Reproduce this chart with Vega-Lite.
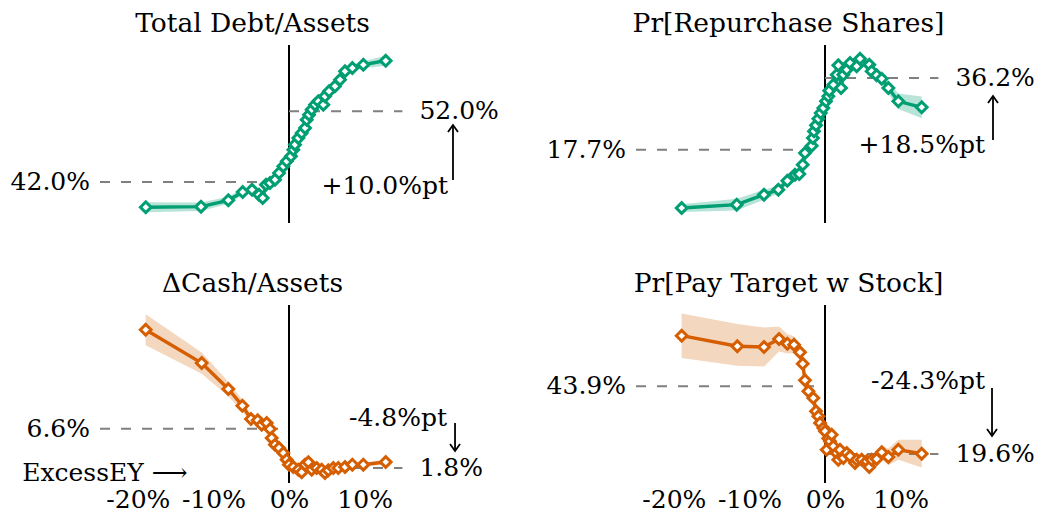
{
  "$schema": "https://vega.github.io/schema/vega-lite/v6.json",
  "padding": {"left": 0, "top": 10, "right": 0, "bottom": 0},
  "columns": 2,
  "spacing": {"row": 82, "column": 31},
  "bounds": "flush",
  "config": {
    "view": {"stroke": null},
    "font": "DejaVu Serif",
    "title": {"font": "DejaVu Serif", "fontSize": 26.5, "fontWeight": "normal", "color": "black", "offset": 7},
    "text": {"font": "DejaVu Serif", "fontSize": 25, "color": "black", "baseline": "middle"},
    "axis": {"labelFont": "DejaVu Serif", "labelFontSize": 25, "labelColor": "black", "domain": false, "ticks": false, "grid": false, "labelPadding": 4}
  },
  "datasets": {
    "tl": [
      {"x": -18.95, "y": 38.42, "lo": 37.72, "hi": 39.12},
      {"x": -11.64, "y": 38.51, "lo": 37.91, "hi": 39.11},
      {"x": -8.03, "y": 39.41, "lo": 38.91, "hi": 39.91},
      {"x": -6.13, "y": 40.59, "lo": 40.14, "hi": 41.04},
      {"x": -4.89, "y": 40.91, "lo": 40.51, "hi": 41.31},
      {"x": -3.97, "y": 40.20, "lo": 39.85, "hi": 40.55},
      {"x": -3.48, "y": 39.74, "lo": 39.39, "hi": 40.09},
      {"x": -3.04, "y": 41.62, "lo": 41.32, "hi": 41.92},
      {"x": -2.51, "y": 41.85, "lo": 41.55, "hi": 42.15},
      {"x": -1.85, "y": 42.33, "lo": 42.03, "hi": 42.63},
      {"x": -1.32, "y": 43.27, "lo": 42.97, "hi": 43.57},
      {"x": -0.75, "y": 44.22, "lo": 43.92, "hi": 44.52},
      {"x": -0.30, "y": 44.93, "lo": 44.63, "hi": 45.23},
      {"x": 0.26, "y": 45.64, "lo": 45.34, "hi": 45.94},
      {"x": 0.57, "y": 46.57, "lo": 46.27, "hi": 46.87},
      {"x": 0.79, "y": 47.28, "lo": 46.98, "hi": 47.58},
      {"x": 1.23, "y": 48.22, "lo": 47.92, "hi": 48.52},
      {"x": 1.68, "y": 48.93, "lo": 48.63, "hi": 49.23},
      {"x": 2.12, "y": 49.64, "lo": 49.34, "hi": 49.94},
      {"x": 2.34, "y": 50.81, "lo": 50.51, "hi": 51.11},
      {"x": 2.65, "y": 51.52, "lo": 51.22, "hi": 51.82},
      {"x": 3.00, "y": 52.23, "lo": 51.93, "hi": 52.53},
      {"x": 3.44, "y": 52.93, "lo": 52.63, "hi": 53.23},
      {"x": 3.88, "y": 53.41, "lo": 53.11, "hi": 53.71},
      {"x": 4.54, "y": 52.93, "lo": 52.63, "hi": 53.23},
      {"x": 4.76, "y": 54.12, "lo": 53.82, "hi": 54.42},
      {"x": 5.29, "y": 54.83, "lo": 54.48, "hi": 55.18},
      {"x": 6.08, "y": 55.54, "lo": 55.19, "hi": 55.89},
      {"x": 6.75, "y": 56.47, "lo": 56.07, "hi": 56.87},
      {"x": 7.41, "y": 57.66, "lo": 57.26, "hi": 58.06},
      {"x": 8.38, "y": 58.12, "lo": 57.67, "hi": 58.57},
      {"x": 9.83, "y": 58.59, "lo": 58.09, "hi": 59.09},
      {"x": 12.79, "y": 59.16, "lo": 58.46, "hi": 59.86}
    ],
    "tr": [
      {"x": -18.96, "y": 2.65, "lo": 1.65, "hi": 3.65},
      {"x": -11.68, "y": 3.51, "lo": 2.01, "hi": 5.01},
      {"x": -8.07, "y": 6.09, "lo": 4.79, "hi": 7.39},
      {"x": -6.17, "y": 7.38, "lo": 6.38, "hi": 8.38},
      {"x": -4.98, "y": 9.70, "lo": 8.8, "hi": 10.6},
      {"x": -3.97, "y": 11.25, "lo": 10.45, "hi": 12.05},
      {"x": -3.40, "y": 11.43, "lo": 10.63, "hi": 12.23},
      {"x": -2.95, "y": 13.83, "lo": 13.13, "hi": 14.53},
      {"x": -2.65, "y": 16.85, "lo": 16.15, "hi": 17.55},
      {"x": -1.76, "y": 18.73, "lo": 18.03, "hi": 19.43},
      {"x": -1.60, "y": 20.72, "lo": 20.02, "hi": 21.42},
      {"x": -1.46, "y": 22.45, "lo": 21.75, "hi": 23.15},
      {"x": -1.19, "y": 24.0, "lo": 23.3, "hi": 24.7},
      {"x": -0.88, "y": 25.7, "lo": 25.0, "hi": 26.4},
      {"x": -0.57, "y": 27.17, "lo": 26.47, "hi": 27.87},
      {"x": -0.22, "y": 28.46, "lo": 27.76, "hi": 29.16},
      {"x": 0.13, "y": 30.19, "lo": 29.49, "hi": 30.89},
      {"x": 0.44, "y": 31.48, "lo": 30.78, "hi": 32.18},
      {"x": 0.57, "y": 32.93, "lo": 32.23, "hi": 33.63},
      {"x": 1.10, "y": 34.47, "lo": 33.77, "hi": 35.17},
      {"x": 1.55, "y": 37.05, "lo": 36.35, "hi": 37.75},
      {"x": 1.76, "y": 39.47, "lo": 38.77, "hi": 40.17},
      {"x": 2.12, "y": 33.62, "lo": 32.92, "hi": 34.32},
      {"x": 2.42, "y": 37.05, "lo": 36.35, "hi": 37.75},
      {"x": 2.87, "y": 38.35, "lo": 37.65, "hi": 39.05},
      {"x": 3.31, "y": 40.07, "lo": 39.37, "hi": 40.77},
      {"x": 4.19, "y": 39.22, "lo": 38.52, "hi": 39.92},
      {"x": 4.63, "y": 41.18, "lo": 40.48, "hi": 41.88},
      {"x": 5.86, "y": 39.64, "lo": 38.84, "hi": 40.44},
      {"x": 6.17, "y": 37.93, "lo": 37.13, "hi": 38.73},
      {"x": 6.83, "y": 36.9, "lo": 36.0, "hi": 37.8},
      {"x": 7.50, "y": 36.02, "lo": 35.02, "hi": 37.02},
      {"x": 8.38, "y": 33.62, "lo": 32.22, "hi": 35.02},
      {"x": 9.70, "y": 30.19, "lo": 28.19, "hi": 32.19},
      {"x": 12.79, "y": 28.64, "lo": 25.84, "hi": 31.44}
    ],
    "bl": [
      {"x": -18.96, "y": 18.7, "lo": 16.8, "hi": 20.6},
      {"x": -11.55, "y": 14.63, "lo": 13.33, "hi": 15.93},
      {"x": -8.03, "y": 11.46, "lo": 10.56, "hi": 12.36},
      {"x": -6.17, "y": 9.42, "lo": 8.72, "hi": 10.12},
      {"x": -5.03, "y": 7.80, "lo": 7.3, "hi": 8.3},
      {"x": -4.14, "y": 7.64, "lo": 7.19, "hi": 8.09},
      {"x": -3.61, "y": 7.10, "lo": 6.7, "hi": 7.5},
      {"x": -2.95, "y": 7.31, "lo": 6.91, "hi": 7.71},
      {"x": -2.51, "y": 6.58, "lo": 6.23, "hi": 6.93},
      {"x": -2.29, "y": 5.48, "lo": 5.18, "hi": 5.78},
      {"x": -1.85, "y": 4.66, "lo": 4.36, "hi": 4.96},
      {"x": -1.32, "y": 4.26, "lo": 3.96, "hi": 4.56},
      {"x": -0.75, "y": 3.65, "lo": 3.4, "hi": 3.9},
      {"x": -0.31, "y": 2.83, "lo": 2.58, "hi": 3.08},
      {"x": 0.0, "y": 2.22, "lo": 1.97, "hi": 2.47},
      {"x": 0.57, "y": 1.94, "lo": 1.74, "hi": 2.14},
      {"x": 1.23, "y": 1.61, "lo": 1.41, "hi": 1.81},
      {"x": 1.68, "y": 1.29, "lo": 1.09, "hi": 1.49},
      {"x": 2.12, "y": 2.22, "lo": 2.02, "hi": 2.42},
      {"x": 2.56, "y": 2.51, "lo": 2.31, "hi": 2.71},
      {"x": 3.00, "y": 1.61, "lo": 1.41, "hi": 1.81},
      {"x": 3.66, "y": 1.81, "lo": 1.61, "hi": 2.01},
      {"x": 4.32, "y": 1.61, "lo": 1.41, "hi": 1.81},
      {"x": 4.76, "y": 1.20, "lo": 1.0, "hi": 1.4},
      {"x": 5.20, "y": 1.53, "lo": 1.33, "hi": 1.73},
      {"x": 5.86, "y": 1.81, "lo": 1.61, "hi": 2.01},
      {"x": 6.52, "y": 1.81, "lo": 1.61, "hi": 2.01},
      {"x": 7.41, "y": 1.94, "lo": 1.74, "hi": 2.14},
      {"x": 8.38, "y": 2.22, "lo": 1.97, "hi": 2.47},
      {"x": 9.83, "y": 2.22, "lo": 1.97, "hi": 2.47},
      {"x": 12.79, "y": 2.55, "lo": 2.25, "hi": 2.85}
    ],
    "br": [
      {"x": -18.96, "y": 62.06, "lo": 54.06, "hi": 70.06},
      {"x": -11.6, "y": 58.26, "lo": 51.26, "hi": 66.26},
      {"x": -8.07, "y": 58.0, "lo": 51.0, "hi": 65.0},
      {"x": -6.08, "y": 60.88, "lo": 56.38, "hi": 65.38},
      {"x": -4.98, "y": 59.2, "lo": 55.7, "hi": 62.7},
      {"x": -4.10, "y": 58.83, "lo": 55.83, "hi": 61.83},
      {"x": -3.31, "y": 56.1, "lo": 53.6, "hi": 58.6},
      {"x": -2.95, "y": 52.0, "lo": 49.5, "hi": 54.5},
      {"x": -2.65, "y": 46.05, "lo": 43.85, "hi": 48.25},
      {"x": -2.2, "y": 42.1, "lo": 39.9, "hi": 44.3},
      {"x": -1.55, "y": 39.7, "lo": 37.7, "hi": 41.7},
      {"x": -1.19, "y": 34.93, "lo": 32.93, "hi": 36.93},
      {"x": -0.88, "y": 33.13, "lo": 31.13, "hi": 35.13},
      {"x": -0.66, "y": 30.7, "lo": 28.7, "hi": 32.7},
      {"x": -0.22, "y": 28.9, "lo": 26.9, "hi": 30.9},
      {"x": 0.0, "y": 27.75, "lo": 25.75, "hi": 29.75},
      {"x": 0.22, "y": 21.14, "lo": 19.14, "hi": 23.14},
      {"x": 0.44, "y": 25.2, "lo": 23.2, "hi": 27.2},
      {"x": 0.66, "y": 24.16, "lo": 22.16, "hi": 26.16},
      {"x": 0.88, "y": 26.53, "lo": 24.53, "hi": 28.53},
      {"x": 1.10, "y": 22.36, "lo": 20.36, "hi": 24.36},
      {"x": 1.54, "y": 19.96, "lo": 17.96, "hi": 21.96},
      {"x": 1.76, "y": 17.55, "lo": 15.55, "hi": 19.55},
      {"x": 1.98, "y": 21.14, "lo": 19.14, "hi": 23.14},
      {"x": 2.42, "y": 18.16, "lo": 16.16, "hi": 20.16},
      {"x": 2.87, "y": 19.96, "lo": 17.96, "hi": 21.96},
      {"x": 3.31, "y": 18.77, "lo": 16.77, "hi": 20.77},
      {"x": 3.97, "y": 16.37, "lo": 14.37, "hi": 18.37},
      {"x": 4.19, "y": 17.55, "lo": 15.55, "hi": 19.55},
      {"x": 4.85, "y": 17.55, "lo": 15.55, "hi": 19.55},
      {"x": 5.51, "y": 16.98, "lo": 14.98, "hi": 18.98},
      {"x": 5.86, "y": 14.93, "lo": 12.73, "hi": 17.13},
      {"x": 6.17, "y": 17.55, "lo": 15.35, "hi": 19.75},
      {"x": 6.83, "y": 17.8, "lo": 15.4, "hi": 20.2},
      {"x": 7.50, "y": 20.21, "lo": 17.61, "hi": 22.81},
      {"x": 8.38, "y": 18.52, "lo": 15.52, "hi": 21.52},
      {"x": 9.70, "y": 21.14, "lo": 17.54, "hi": 24.74},
      {"x": 12.79, "y": 19.71, "lo": 14.71, "hi": 24.71}
    ]
  },
  "concat": [
    {
      "title": "Total Debt/Assets",
      "width": 505, "height": 178,
      "encoding": {"x": {"field": "x", "type": "quantitative", "scale": {"domain": [-38.23, 28.57], "nice": false, "zero": false}, "axis": null}},
      "layer": [
        {"data": {"values": [{"x": 0}]}, "mark": {"type": "rule", "color": "black", "strokeWidth": 2}, "encoding": {}},
        {"data": {"values": [{"x": -25, "x2": 0, "y": 42.0}, {"x": 0, "x2": 15, "y": 52.0}]}, "mark": {"type": "rule", "color": "#808080", "strokeWidth": 2, "strokeDash": [10, 11]}, "encoding": {"x2": {"field": "x2"}, "y": {"field": "y", "type": "quantitative", "scale": {"domain": [36.2, 61.38], "nice": false, "zero": false}, "axis": null}}},
        {"data": {"values": [{"x": -25, "y": 42.0, "label": "42.0%"}]}, "mark": {"type": "text", "align": "right", "dx": -10}, "encoding": {"y": {"field": "y", "type": "quantitative", "scale": {"domain": [36.2, 61.38], "nice": false, "zero": false}, "axis": null}, "text": {"field": "label"}}},
        {"data": {"values": [{"x": 15, "y": 52.0, "label": "52.0%"}]}, "mark": {"type": "text", "align": "left", "dx": 17}, "encoding": {"y": {"field": "y", "type": "quantitative", "scale": {"domain": [36.2, 61.38], "nice": false, "zero": false}, "axis": null}, "text": {"field": "label"}}},
        {"data": {"values": [{"x": 21.69, "y": 41.43, "label": "+10.0%pt"}]}, "mark": {"type": "text", "align": "right", "dx": -5}, "encoding": {"y": {"field": "y", "type": "quantitative", "scale": {"domain": [36.2, 61.38], "nice": false, "zero": false}, "axis": null}, "text": {"field": "label"}}},
        {"data": {"values": [{"x": 21.69, "y": 42.28, "y2": 50.06}]}, "mark": {"type": "rule", "color": "black", "strokeWidth": 1.8}, "encoding": {"y": {"field": "y", "type": "quantitative", "scale": {"domain": [36.2, 61.38], "nice": false, "zero": false}, "axis": null}, "y2": {"field": "y2"}}},
        {"data": {"values": [{"x": 21.69, "y": 50.06}]}, "mark": {"type": "point", "shape": "M-1,1.4L0,0L1,1.4", "filled": false, "stroke": "black", "strokeWidth": 1.8, "size": 100, "opacity": 1}, "encoding": {"y": {"field": "y", "type": "quantitative", "scale": {"domain": [36.2, 61.38], "nice": false, "zero": false}, "axis": null}}},
        {"data": {"name": "tl"}, "mark": {"type": "area", "color": "#009e73", "opacity": 0.28}, "encoding": {"y": {"field": "lo", "type": "quantitative", "scale": {"domain": [36.2, 61.38], "nice": false, "zero": false}, "axis": null}, "y2": {"field": "hi"}}},
        {"data": {"name": "tl"}, "mark": {"type": "line", "color": "#009e73", "strokeWidth": 3.4}, "encoding": {"y": {"field": "y", "type": "quantitative", "scale": {"domain": [36.2, 61.38], "nice": false, "zero": false}, "axis": null}}},
        {"data": {"name": "tl"}, "mark": {"type": "point", "shape": "diamond", "filled": true, "fill": "white", "stroke": "#009e73", "strokeWidth": 3, "size": 115, "opacity": 1}, "encoding": {"y": {"field": "y", "type": "quantitative", "scale": {"domain": [36.2, 61.38], "nice": false, "zero": false}, "axis": null}}}
      ]
    },
    {
      "title": "Pr[Repurchase Shares]",
      "width": 505, "height": 178,
      "encoding": {"x": {"field": "x", "type": "quantitative", "scale": {"domain": [-38.23, 28.57], "nice": false, "zero": false}, "axis": null}},
      "layer": [
        {"data": {"values": [{"x": 0}]}, "mark": {"type": "rule", "color": "black", "strokeWidth": 2}, "encoding": {}},
        {"data": {"values": [{"x": -25, "x2": 0, "y": 17.7}, {"x": 0, "x2": 15, "y": 36.2}]}, "mark": {"type": "rule", "color": "#808080", "strokeWidth": 2, "strokeDash": [10, 11]}, "encoding": {"x2": {"field": "x2"}, "y": {"field": "y", "type": "quantitative", "scale": {"domain": [-1.22, 44.72], "nice": false, "zero": false}, "axis": null}}},
        {"data": {"values": [{"x": -25, "y": 17.7, "label": "17.7%"}]}, "mark": {"type": "text", "align": "right", "dx": -10}, "encoding": {"y": {"field": "y", "type": "quantitative", "scale": {"domain": [-1.22, 44.72], "nice": false, "zero": false}, "axis": null}, "text": {"field": "label"}}},
        {"data": {"values": [{"x": 15, "y": 36.2, "label": "36.2%"}]}, "mark": {"type": "text", "align": "left", "dx": 17}, "encoding": {"y": {"field": "y", "type": "quantitative", "scale": {"domain": [-1.22, 44.72], "nice": false, "zero": false}, "axis": null}, "text": {"field": "label"}}},
        {"data": {"values": [{"x": 22.22, "y": 18.9, "label": "+18.5%pt"}]}, "mark": {"type": "text", "align": "right", "dx": -8}, "encoding": {"y": {"field": "y", "type": "quantitative", "scale": {"domain": [-1.22, 44.72], "nice": false, "zero": false}, "axis": null}, "text": {"field": "label"}}},
        {"data": {"values": [{"x": 22.22, "y": 20.2, "y2": 31.56}]}, "mark": {"type": "rule", "color": "black", "strokeWidth": 1.8}, "encoding": {"y": {"field": "y", "type": "quantitative", "scale": {"domain": [-1.22, 44.72], "nice": false, "zero": false}, "axis": null}, "y2": {"field": "y2"}}},
        {"data": {"values": [{"x": 22.22, "y": 31.56}]}, "mark": {"type": "point", "shape": "M-1,1.4L0,0L1,1.4", "filled": false, "stroke": "black", "strokeWidth": 1.8, "size": 100, "opacity": 1}, "encoding": {"y": {"field": "y", "type": "quantitative", "scale": {"domain": [-1.22, 44.72], "nice": false, "zero": false}, "axis": null}}},
        {"data": {"name": "tr"}, "mark": {"type": "area", "color": "#009e73", "opacity": 0.28}, "encoding": {"y": {"field": "lo", "type": "quantitative", "scale": {"domain": [-1.22, 44.72], "nice": false, "zero": false}, "axis": null}, "y2": {"field": "hi"}}},
        {"data": {"name": "tr"}, "mark": {"type": "line", "color": "#009e73", "strokeWidth": 3.4}, "encoding": {"y": {"field": "y", "type": "quantitative", "scale": {"domain": [-1.22, 44.72], "nice": false, "zero": false}, "axis": null}}},
        {"data": {"name": "tr"}, "mark": {"type": "point", "shape": "diamond", "filled": true, "fill": "white", "stroke": "#009e73", "strokeWidth": 3, "size": 115, "opacity": 1}, "encoding": {"y": {"field": "y", "type": "quantitative", "scale": {"domain": [-1.22, 44.72], "nice": false, "zero": false}, "axis": null}}}
      ]
    },
    {
      "title": "ΔCash/Assets",
      "width": 505, "height": 178,
      "encoding": {"x": {"field": "x", "type": "quantitative", "scale": {"domain": [-38.23, 28.57], "nice": false, "zero": false}, "axis": {"values": [-20, -10, 0, 10], "labelExpr": "datum.value + '%'", "title": null, "labelFlush": false, "labelOverlap": false}}},
      "layer": [
        {"data": {"values": [{"x": 0}]}, "mark": {"type": "rule", "color": "black", "strokeWidth": 2}, "encoding": {}},
        {"data": {"values": [{"x": -25, "x2": 0, "y": 6.6}, {"x": 0, "x2": 15, "y": 1.8}]}, "mark": {"type": "rule", "color": "#808080", "strokeWidth": 2, "strokeDash": [10, 11]}, "encoding": {"x2": {"field": "x2"}, "y": {"field": "y", "type": "quantitative", "scale": {"domain": [-0.02, 21.72], "nice": false, "zero": false}, "axis": null}}},
        {"data": {"values": [{"x": -25, "y": 6.6, "label": "6.6%"}]}, "mark": {"type": "text", "align": "right", "dx": -10}, "encoding": {"y": {"field": "y", "type": "quantitative", "scale": {"domain": [-0.02, 21.72], "nice": false, "zero": false}, "axis": null}, "text": {"field": "label"}}},
        {"data": {"values": [{"x": 15, "y": 1.8, "label": "1.8%"}]}, "mark": {"type": "text", "align": "left", "dx": 17}, "encoding": {"y": {"field": "y", "type": "quantitative", "scale": {"domain": [-0.02, 21.72], "nice": false, "zero": false}, "axis": null}, "text": {"field": "label"}}},
        {"data": {"values": [{"x": -35.3, "y": 1.2, "label": "ExcessEY ⟶"}]}, "mark": {"type": "text", "align": "left"}, "encoding": {"y": {"field": "y", "type": "quantitative", "scale": {"domain": [-0.02, 21.72], "nice": false, "zero": false}, "axis": null}, "text": {"field": "label"}}},
        {"data": {"values": [{"x": 21.96, "y": 7.92, "label": "-4.8%pt"}]}, "mark": {"type": "text", "align": "right", "dx": -8}, "encoding": {"y": {"field": "y", "type": "quantitative", "scale": {"domain": [-0.02, 21.72], "nice": false, "zero": false}, "axis": null}, "text": {"field": "label"}}},
        {"data": {"values": [{"x": 21.96, "y": 7.31, "y2": 3.89}]}, "mark": {"type": "rule", "color": "black", "strokeWidth": 1.8}, "encoding": {"y": {"field": "y", "type": "quantitative", "scale": {"domain": [-0.02, 21.72], "nice": false, "zero": false}, "axis": null}, "y2": {"field": "y2"}}},
        {"data": {"values": [{"x": 21.96, "y": 3.89}]}, "mark": {"type": "point", "shape": "M-1,-1.4L0,0L1,-1.4", "filled": false, "stroke": "black", "strokeWidth": 1.8, "size": 100, "opacity": 1}, "encoding": {"y": {"field": "y", "type": "quantitative", "scale": {"domain": [-0.02, 21.72], "nice": false, "zero": false}, "axis": null}}},
        {"data": {"name": "bl"}, "mark": {"type": "area", "color": "#d55e00", "opacity": 0.25}, "encoding": {"y": {"field": "lo", "type": "quantitative", "scale": {"domain": [-0.02, 21.72], "nice": false, "zero": false}, "axis": null}, "y2": {"field": "hi"}}},
        {"data": {"name": "bl"}, "mark": {"type": "line", "color": "#d55e00", "strokeWidth": 3.4}, "encoding": {"y": {"field": "y", "type": "quantitative", "scale": {"domain": [-0.02, 21.72], "nice": false, "zero": false}, "axis": null}}},
        {"data": {"name": "bl"}, "mark": {"type": "point", "shape": "diamond", "filled": true, "fill": "white", "stroke": "#d55e00", "strokeWidth": 3, "size": 115, "opacity": 1}, "encoding": {"y": {"field": "y", "type": "quantitative", "scale": {"domain": [-0.02, 21.72], "nice": false, "zero": false}, "axis": null}}}
      ]
    },
    {
      "title": "Pr[Pay Target w Stock]",
      "width": 505, "height": 178,
      "encoding": {"x": {"field": "x", "type": "quantitative", "scale": {"domain": [-38.23, 28.57], "nice": false, "zero": false}, "axis": {"values": [-20, -10, 0, 10], "labelExpr": "datum.value + '%'", "title": null, "labelFlush": false, "labelOverlap": false}}},
      "layer": [
        {"data": {"values": [{"x": 0}]}, "mark": {"type": "rule", "color": "black", "strokeWidth": 2}, "encoding": {}},
        {"data": {"values": [{"x": -25, "x2": 0, "y": 43.9}, {"x": 0, "x2": 15, "y": 19.6}]}, "mark": {"type": "rule", "color": "#808080", "strokeWidth": 2, "strokeDash": [10, 11]}, "encoding": {"x2": {"field": "x2"}, "y": {"field": "y", "type": "quantitative", "scale": {"domain": [9.19, 73.08], "nice": false, "zero": false}, "axis": null}}},
        {"data": {"values": [{"x": -25, "y": 43.9, "label": "43.9%"}]}, "mark": {"type": "text", "align": "right", "dx": -10}, "encoding": {"y": {"field": "y", "type": "quantitative", "scale": {"domain": [9.19, 73.08], "nice": false, "zero": false}, "axis": null}, "text": {"field": "label"}}},
        {"data": {"values": [{"x": 15, "y": 19.6, "label": "19.6%"}]}, "mark": {"type": "text", "align": "left", "dx": 17}, "encoding": {"y": {"field": "y", "type": "quantitative", "scale": {"domain": [9.19, 73.08], "nice": false, "zero": false}, "axis": null}, "text": {"field": "label"}}},
        {"data": {"values": [{"x": 22.09, "y": 45.8, "label": "-24.3%pt"}]}, "mark": {"type": "text", "align": "right", "dx": -7}, "encoding": {"y": {"field": "y", "type": "quantitative", "scale": {"domain": [9.19, 73.08], "nice": false, "zero": false}, "axis": null}, "text": {"field": "label"}}},
        {"data": {"values": [{"x": 22.09, "y": 43.29, "y2": 26.06}]}, "mark": {"type": "rule", "color": "black", "strokeWidth": 1.8}, "encoding": {"y": {"field": "y", "type": "quantitative", "scale": {"domain": [9.19, 73.08], "nice": false, "zero": false}, "axis": null}, "y2": {"field": "y2"}}},
        {"data": {"values": [{"x": 22.09, "y": 26.06}]}, "mark": {"type": "point", "shape": "M-1,-1.4L0,0L1,-1.4", "filled": false, "stroke": "black", "strokeWidth": 1.8, "size": 100, "opacity": 1}, "encoding": {"y": {"field": "y", "type": "quantitative", "scale": {"domain": [9.19, 73.08], "nice": false, "zero": false}, "axis": null}}},
        {"data": {"name": "br"}, "mark": {"type": "area", "color": "#d55e00", "opacity": 0.25}, "encoding": {"y": {"field": "lo", "type": "quantitative", "scale": {"domain": [9.19, 73.08], "nice": false, "zero": false}, "axis": null}, "y2": {"field": "hi"}}},
        {"data": {"name": "br"}, "mark": {"type": "line", "color": "#d55e00", "strokeWidth": 3.4}, "encoding": {"y": {"field": "y", "type": "quantitative", "scale": {"domain": [9.19, 73.08], "nice": false, "zero": false}, "axis": null}}},
        {"data": {"name": "br"}, "mark": {"type": "point", "shape": "diamond", "filled": true, "fill": "white", "stroke": "#d55e00", "strokeWidth": 3, "size": 115, "opacity": 1}, "encoding": {"y": {"field": "y", "type": "quantitative", "scale": {"domain": [9.19, 73.08], "nice": false, "zero": false}, "axis": null}}}
      ]
    }
  ]
}
